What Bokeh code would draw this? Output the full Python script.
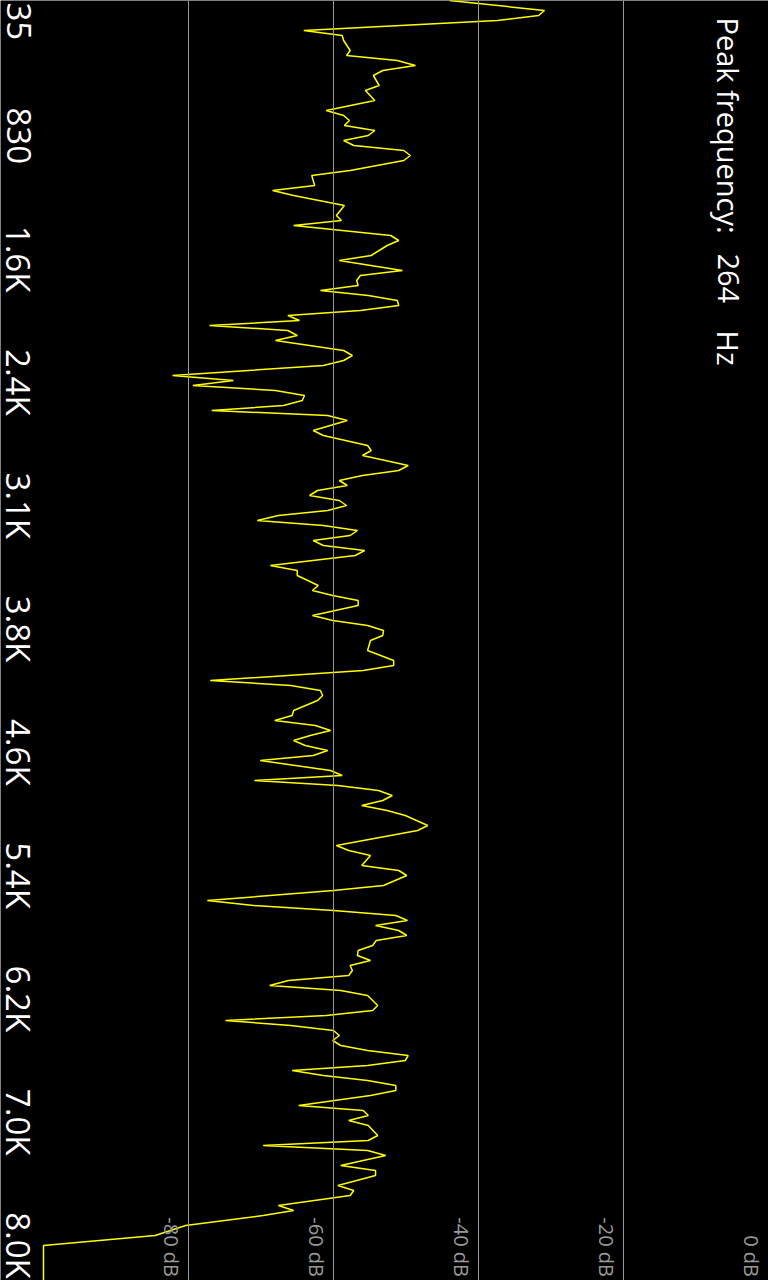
import numpy as np
from bokeh.plotting import figure
from bokeh.models import Range1d, Span
from bokeh.core.properties import value
from bokeh.embed import file_html
from bokeh.resources import INLINE

# ---- data ----
bin_width_hz = 31.25
bins = [0, 2, 3, 4, 6, 7, 8, 10, 11, 12,
        13, 14, 15, 17, 18, 20, 22, 23, 24, 25,
        26, 27, 28, 29, 30, 31, 32, 34, 35, 37,
        38, 39, 41, 43, 44, 45, 47, 48, 49, 51,
        52, 54, 55, 56, 57, 58, 59, 60, 61, 62,
        63, 64, 65, 66, 67, 68, 70, 71, 72, 73,
        75, 76, 77, 78, 79, 80, 81, 82, 83, 84,
        86, 87, 89, 90, 91, 93, 94, 95, 96, 97,
        98, 99, 100, 101, 102, 103, 104, 105, 106, 107,
        108, 109, 110, 111, 113, 114, 115, 117, 118, 119,
        120, 121, 123, 124, 125, 126, 127, 128, 130, 131,
        132, 133, 134, 136, 137, 138, 139, 140, 142, 143,
        144, 145, 146, 147, 148, 149, 150, 151, 152, 154,
        155, 156, 157, 158, 159, 160, 161, 162, 163, 165,
        166, 169, 170, 171, 173, 174, 175, 177, 178, 180,
        181, 182, 183, 184, 185, 186, 187, 188, 189, 190,
        191, 192, 193, 194, 195, 196, 197, 198, 199, 201,
        202, 203, 204, 205, 206, 207, 208, 209, 210, 211,
        212, 213, 214, 215, 216, 217, 218, 219, 221, 222,
        223, 224, 225, 227, 228, 229, 230, 231, 233, 234,
        235, 237, 238, 239, 241, 242, 243, 245, 247, 249, 256]
level_db = [-44.0, -30.9, -31.7, -37.4, -64.1, -58.8, -58.6, -57.7, -58.2, -51.2,
            -48.7, -53.2, -54.5, -53.7, -55.6, -54.3, -61.0, -58.6, -57.8, -58.5,
            -54.3, -55.2, -58.6, -57.2, -50.3, -49.4, -50.3, -57.7, -63.0, -62.6,
            -68.4, -65.5, -58.5, -59.6, -58.9, -65.5, -52.1, -51.0, -52.6, -54.8,
            -59.2, -50.5, -56.3, -56.8, -56.6, -61.8, -55.2, -51.2, -51.0, -56.3,
            -66.3, -64.7, -77.1, -66.3, -65.0, -68.0, -58.6, -57.4, -58.6, -61.4,
            -82.2, -73.8, -79.4, -68.0, -64.0, -64.3, -66.9, -76.8, -60.8, -58.1,
            -62.8, -61.4, -55.3, -54.8, -56.0, -49.7, -51.0, -56.0, -59.2, -58.1,
            -62.2, -63.3, -59.2, -58.2, -60.8, -67.6, -70.5, -61.4, -56.7, -57.7,
            -62.8, -61.4, -55.7, -57.0, -68.7, -65.0, -65.0, -62.1, -62.9, -60.1,
            -56.6, -56.6, -62.9, -60.1, -55.3, -53.1, -53.2, -54.9, -55.3, -53.5,
            -51.7, -51.7, -55.9, -77.0, -65.9, -61.8, -61.5, -62.2, -65.5, -65.7,
            -68.1, -62.5, -60.4, -63.2, -65.5, -63.9, -60.8, -62.8, -70.1, -60.4,
            -58.8, -70.9, -59.4, -53.8, -51.9, -53.2, -56.1, -52.6, -50.1, -47.0,
            -48.4, -59.6, -57.9, -54.9, -56.1, -51.0, -49.9, -53.1, -60.0, -77.4,
            -71.0, -60.0, -51.4, -49.8, -54.2, -51.0, -49.9, -54.1, -54.6, -56.6,
            -56.7, -54.9, -57.7, -57.4, -57.9, -66.2, -68.8, -59.0, -55.3, -53.9,
            -54.6, -61.0, -74.9, -65.9, -60.0, -59.2, -60.1, -59.0, -55.3, -49.7,
            -50.1, -55.3, -65.7, -61.4, -55.3, -51.4, -51.4, -54.9, -64.8, -55.9,
            -55.2, -57.9, -55.2, -53.9, -55.2, -69.7, -55.3, -52.8, -59.0, -54.2,
            -54.2, -59.4, -57.2, -57.7, -67.6, -65.5, -69.7, -80.4, -84.6, -100.0, -100.0]
freq_hz = [b * bin_width_hz for b in bins]

freq_tick_labels = ["35", "830", "1.6K", "2.4K", "3.1K", "3.8K",
                    "4.6K", "5.4K", "6.2K", "7.0K", "8.0K"]
db_grid = [-80, -60, -40, -20, 0]
db_labels = ["-80 dB", "-60 dB", "-40 dB", "-20 dB", "0 dB"]
peak_parts = ["Peak frequency:", "264", "Hz"]

# ---- figure ----
W, H = 768, 1280
p = figure(width=W, height=H, output_backend="svg", toolbar_location=None,
           x_range=Range1d(-105.93, 0.0), y_range=Range1d(8000, 0),
           x_axis_type=None, y_axis_type=None, min_border=0,
           background_fill_color="black", border_fill_color="black",
           outline_line_color=None)
p.xgrid.visible = False
p.ygrid.visible = False

for g in db_grid:
    p.add_layout(Span(location=g, dimension="height",
                      line_color="#9a9a9a", line_width=1))

p.line(level_db, freq_hz, line_color="#ffff00", line_width=1.5)

# frequency tick labels, evenly spaced; the first one is kept inside the view
n = len(freq_tick_labels)
last_pos, step = 7781.0, 770.6
tick_pos = [last_pos - (n - 1 - k) * step for k in range(n)]
tick_pos[0] = 130.0
p.text(x=[-103.4] * n, y=tick_pos, text=freq_tick_labels, angle=-np.pi / 2,
       text_align="center", text_baseline="middle", text_color="white",
       text_font=value("Open Sans"), text_font_size="33px")

# dB labels next to grid lines
p.text(x=[g - 2.35 for g in db_grid], y=[7978.0] * len(db_grid), text=db_labels,
       angle=-np.pi / 2, text_align="right", text_baseline="alphabetic",
       text_color="#9a9a9a", text_font=value("Open Sans"), text_font_size="20px")

# peak frequency readout
peak_y = [106.0, 1581.0, 2063.0]
p.text(x=[-5.5] * 3, y=peak_y, text=peak_parts, angle=-np.pi / 2,
       text_align="left", text_baseline="alphabetic", text_color="white",
       text_font=value("Open Sans"), text_font_size="29px")

open("out.html", "w").write(file_html(p, INLINE))
